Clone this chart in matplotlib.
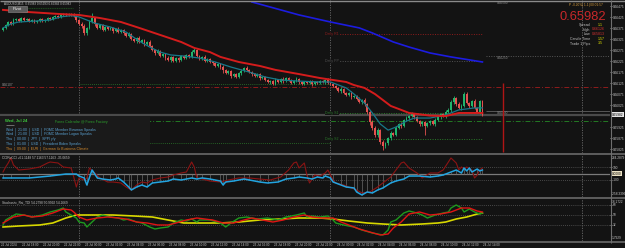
import numpy as np
import matplotlib.pyplot as plt
from matplotlib.patches import Rectangle

plt.rcParams['font.family'] = ['Liberation Sans', 'DejaVu Sans']

BG = '#131313'
TXT = '#c4c4c4'

# AUDUSD M15 bars, prices in points (1e-5)
first_open = 66366
closes = [66376, 66389, 66403, 66394, 66412, 66417, 66407, 66421, 66412, 66417,
          66407, 66412, 66403, 66407, 66417, 66407, 66412, 66421, 66417, 66426,
          66430, 66426, 66435, 66439, 66435, 66439, 66435, 66430, 66412, 66394,
          66385, 66353, 66376, 66403, 66421, 66394, 66376, 66389, 66367, 66380,
          66371, 66376, 66362, 66371, 66357, 66367, 66353, 66339, 66348, 66326,
          66316, 66330, 66312, 66321, 66303, 66312, 66294, 66276, 66262, 66271,
          66248, 66257, 66239, 66230, 66244, 66225, 66239, 66230, 66248, 66239,
          66253, 66244, 66266, 66276, 66248, 66235, 66244, 66225, 66235, 66221,
          66216, 66203, 66212, 66198, 66185, 66171, 66180, 66157, 66166, 66153,
          66171, 66180, 66194, 66185, 66175, 66166, 66157, 66166, 66148, 66153,
          66139, 66130, 66134, 66121, 66139, 66130, 66144, 66134, 66148, 66139,
          66125, 66134, 66144, 66130, 66121, 66130, 66125, 66134, 66121, 66130,
          66125, 66134, 66130, 66139, 66125, 66121, 66112, 66103, 66089, 66098,
          66080, 66071, 66080, 66062, 66066, 66053, 66039, 66048, 66030, 65993,
          65948, 65921, 65889, 65912, 65857, 65839, 65852, 65875, 65898, 65889,
          65921, 65939, 65930, 65957, 65966, 65975, 65984, 65971, 65952, 65939,
          65948, 65930, 65943, 65952, 65939, 65957, 65971, 65984, 65975, 65993,
          66003, 66039, 66057, 66030, 66012, 66021, 66075, 66034, 66021, 66043,
          66012, 65993, 66043, 65982]
wick_hi = [4, 6, 3, 5, 7, 4, 5, 3, 6, 4, 5, 3, 6, 4, 5, 3, 4, 6, 3, 5,
           4, 6, 3, 5, 4, 6, 3, 8, 5, 6, 7, 9, 6, 8, 22, 6, 5, 7, 4, 6,
           5, 6, 4, 5, 7, 4, 6, 5, 8, 4, 6, 5, 7, 4, 6, 5, 8, 6, 5, 7,
           4, 6, 5, 7, 4, 6, 5, 4, 7, 5, 6, 4, 8, 9, 5, 6, 4, 7, 5, 6,
           5, 7, 4, 6, 8, 5, 6, 4, 7, 5, 6, 8, 5, 7, 4, 6, 5, 7, 4, 6,
           5, 4, 6, 5, 7, 4, 6, 8, 5, 4, 6, 5, 7, 4, 5, 6, 4, 5, 7, 4,
           5, 6, 4, 5, 7, 4, 6, 5, 4, 7, 5, 6, 4, 7, 5, 6, 8, 5, 7, 6,
           9, 8, 7, 10, 6, 8, 7, 6, 9, 5, 7, 6, 8, 5, 7, 6, 9, 5, 6, 4,
           6, 5, 7, 4, 6, 8, 5, 7, 6, 9, 7, 10, 8, 6, 9, 7, 9, 8, 6, 7,
           8, 6, 7, 5]
wick_lo = [5, 3, 6, 4, 3, 5, 4, 6, 3, 5, 4, 6, 3, 5, 4, 6, 5, 3, 6, 4,
           5, 3, 6, 4, 5, 3, 6, 4, 9, 7, 8, 10, 7, 6, 5, 8, 6, 4, 7, 5,
           6, 4, 7, 5, 6, 4, 8, 6, 5, 7, 5, 7, 4, 6, 8, 5, 6, 7, 9, 5,
           6, 5, 7, 4, 8, 6, 5, 7, 4, 6, 5, 7, 6, 4, 6, 5, 7, 4, 6, 5,
           7, 5, 6, 8, 14, 6, 5, 7, 4, 6, 5, 7, 4, 6, 5, 8, 6, 4, 7, 5,
           6, 5, 7, 4, 6, 5, 4, 7, 5, 6, 4, 6, 5, 7, 4, 6, 5, 4, 7, 5,
           6, 4, 5, 7, 4, 6, 5, 7, 6, 8, 6, 7, 5, 8, 6, 7, 5, 9, 7, 10,
           12, 9, 11, 8, 10, 18, 9, 7, 8, 6, 7, 5, 8, 6, 5, 7, 6, 8, 5, 9,
           7, 40, 6, 8, 5, 7, 6, 9, 5, 7, 6, 8, 7, 9, 6, 8, 7, 6, 8, 5,
           7, 6, 8, 5]

# moving averages and trend line, read at sample bars
ma_slow_bar = [0, 10, 22, 29, 37, 45, 52, 60, 68, 73, 79, 83, 90, 98, 104,
               113, 121, 126, 131, 134, 138, 142, 145, 148, 152, 155, 163, 169, 174, 183]
ma_slow = [66458, 66448, 66439, 66435, 66421, 66403, 66376, 66344, 66312, 66285,
           66266, 66244, 66221, 66203, 66185, 66166, 66148, 66139, 66130, 66116,
           66103, 66075, 66048, 66021, 66003, 65989, 65977, 65975, 65989, 65989]
ma_fast_bar = [0, 3, 6, 12, 18, 22, 26, 29, 35, 41, 47, 52, 56, 60, 64, 69, 75, 81,
               87, 94, 100, 106, 113, 121, 125, 131, 134, 138, 141, 144, 147, 150,
               154, 157, 163, 169, 174, 180, 183]
ma_fast = [66376, 66394, 66403, 66407, 66412, 66426, 66432, 66426, 66398, 66380,
           66357, 66316, 66289, 66266, 66253, 66248, 66239, 66221, 66198, 66175,
           66153, 66139, 66134, 66130, 66130, 66103, 66075, 66034, 65989, 65939,
           65911, 65925, 65952, 65966, 65966, 65980, 66003, 66012, 66012]
trend_bar = [95, 113, 125, 136, 141, 149, 155, 163, 171, 183]
trend = [66494, 66435, 66403, 66376, 66353, 66312, 66289, 66262, 66244, 66221]

# levels
daily_names = ['Daily R1', 'Daily PP', 'Daily S1', 'Daily S2']
daily_levels = [66348, 66225, 65989, 65871]
daily_colors = ['#8e1c1c', '#505050', '#2a7a2a', '#2a7a2a']
prev_levels = [66121, 65852]
alert_levels = [66500, 66250, 66000]
red_level = 66107
green_level = 65952
bid = 65982
day_high, day_low = 66126, 65813
day_starts = [29, 125, 221]
today = 125
range_bar = 191

# CCI panel
cci_blue_bar = [0, 3, 10, 18, 24, 28, 29, 31, 32, 34, 36, 38, 41, 43, 44, 46, 48, 49, 51, 53,
                55, 57, 60, 63, 65, 68, 70, 72, 74, 76, 79, 83, 84, 85, 88, 92, 94, 98, 101, 105,
                108, 111, 113, 116, 118, 120, 122, 123, 125, 126, 129, 131, 134, 135, 137, 139,
                141, 143, 145, 148, 150, 153, 155, 159, 163, 166, 168, 171, 173, 175,
                176, 177, 178, 179, 181, 182, 183]
cci_blue = [-69, -69, -69, -39, -8, -8, -39, -69, -177, 54, -69, -85, -100, -85, -69, -131,
            -208, -254, -208, -177, -208, -146, -131, -116, -85, -100, -85, -69, -85, -69,
            -85, -116, -177, -131, -116, -85, -100, -131, -146, -131, -85, -69, -54, -69,
            -85, -54, -69, -39, -69, -131, -177, -208, -223, -285, -331, -285, -300, -254,
            -223, -146, -116, -85, -39, -39, -54, -39, -23, 23, 54, 8, 85, 39, 85, 23, 69, 39, 54]
cci_red_bar = [0, 1, 2, 3, 4, 6, 10, 14, 17, 18, 21, 23, 26, 27, 28, 29, 31, 32, 33, 35,
               37, 40, 42, 45, 47, 49, 51, 53, 55, 57, 60, 63, 65, 68, 70, 72, 73, 74, 76, 79,
               83, 86, 90, 94, 98, 102, 106, 109, 111, 112, 113, 115, 116, 117, 119, 121, 123,
               124, 126, 127, 130, 132, 135, 137, 140, 143, 145, 148, 150, 152, 153, 155, 158,
               160, 163, 166, 168, 170, 171, 173, 174, 175, 176, 177, 179, 180, 181, 182, 183]
cci_red = [23, 100, 162, 239, 131, 54, 69, 100, 162, 177, 162, 100, 85, -54, -208, -69,
           -100, -69, 85, 8, -69, -131, -131, -146, -208, -254, -177, -131, -146, -100,
           -69, -54, -23, 8, 23, 177, 100, -69, -85, -116, -131, -100, -69, -69, -85, -100,
           -54, 54, 162, 177, 85, 162, -23, -146, -23, -39, 8, 54, -100, -146, -177, -208,
           -254, -300, -285, -208, -146, -54, 54, 162, 177, 85, 8, -69, 8, 8, 54, 177, 239,
           162, 54, 100, 69, 100, 54, -69, -23, 54, 85]

# Stochastic RSI TDI panel
st_green_bar = [0, 1, 3, 5, 8, 11, 15, 18, 21, 23, 24, 26, 28, 29, 31, 32, 34, 36, 38, 41,
                44, 46, 48, 51, 53, 56, 58, 60, 63, 65, 68, 70, 72, 74, 75, 79, 83, 85, 87, 90,
                93, 97, 101, 105, 108, 112, 115, 116, 118, 121, 124, 126, 127, 130, 134, 137,
                141, 145, 147, 148, 150, 153, 155, 158, 160, 162, 165, 168, 170, 171,
                173, 175, 176, 178, 180, 182, 183]
st_green = [32.0, 41.0, 46.4, 51.8, 50.0, 46.4, 50.0, 55.4, 59.0, 62.6,
            55.4, 50.0, 44.6, 37.4, 35.6, 28.4, 37.4, 46.4, 50.0, 46.4,
            44.6, 41.0, 42.8, 37.4, 35.6, 28.4, 24.8, 26.6, 28.4, 35.6,
            41.0, 39.2, 42.8, 37.4, 41.0, 41.0, 35.6, 28.4, 35.6, 44.6,
            46.4, 42.8, 44.6, 41.0, 46.4, 50.0, 53.6, 46.4, 48.2, 46.4,
            48.2, 41.0, 35.6, 32.0, 28.4, 23.0, 17.6, 14.0, 23.0, 37.4,
            41.0, 53.6, 57.2, 53.6, 50.0, 44.6, 50.0, 53.6, 55.4, 62.6,
            68.0, 62.6, 55.4, 60.8, 55.4, 51.8, 53.6]
st_red_bar = [0, 2, 4, 8, 11, 15, 19, 23, 26, 27, 29, 32, 36, 40, 44, 47, 51, 55, 59, 63,
              66, 70, 74, 80, 84, 88, 92, 95, 99, 103, 107, 111, 115, 118, 122, 126, 129, 132,
              136, 140, 144, 147, 149, 152, 155, 159, 163, 167, 171, 175, 178, 181, 183]
st_red = [35.6, 41.0, 46.4, 50.0, 46.4, 48.2, 53.6, 60.8, 59.0, 55.4,
          46.4, 41.0, 44.6, 46.4, 44.6, 42.8, 37.4, 35.6, 32.0, 32.0,
          35.6, 41.0, 44.6, 41.0, 35.6, 35.6, 41.0, 44.6, 41.0, 37.4,
          41.0, 46.4, 50.0, 46.4, 44.6, 44.6, 37.4, 32.0, 24.8, 19.4,
          14.0, 15.8, 26.6, 37.4, 51.8, 55.4, 50.0, 51.8, 55.4, 62.6,
          62.6, 57.2, 55.4]
st_yellow_bar = [0, 6, 14, 19, 24, 28, 34, 42, 50, 57, 63, 69, 75, 83, 90, 98, 106, 113,
                 121, 126, 132, 139, 145, 152, 160, 166, 169, 173, 177, 181, 183]
st_yellow = [28.4, 30.2, 32.0, 35.6, 44.6, 50.0, 50.0, 50.0, 48.2, 46.4,
             41.0, 35.6, 35.6, 35.6, 37.4, 41.0, 42.8, 44.6, 44.6, 42.8,
             39.2, 35.6, 33.8, 32.0, 33.8, 35.6, 37.4, 42.8, 46.4, 51.8, 53.6]

time_bar = [-3, 5, 13, 21, 29, 37, 45, 53, 61, 69, 77, 85, 93, 101, 109, 117,
            125, 133, 141, 149, 157, 165, 173, 181]
time_labels = ['22 Jul 2024', '22 Jul 18:00', '22 Jul 20:00', '22 Jul 22:00',
               '23 Jul 00:00', '23 Jul 02:00', '23 Jul 04:00', '23 Jul 06:00',
               '23 Jul 08:00', '23 Jul 10:00', '23 Jul 12:00', '23 Jul 14:00',
               '23 Jul 16:00', '23 Jul 18:00', '23 Jul 20:00', '23 Jul 22:00',
               '24 Jul 00:00', '24 Jul 02:00', '24 Jul 04:00', '24 Jul 06:00',
               '24 Jul 08:00', '24 Jul 10:00', '24 Jul 12:00', '24 Jul 14:00']

events = ['Wed  |  21:00  |  USD  |  FOMC Member Bowman Speaks',
          'Wed  |  21:00  |  USD  |  FOMC Member Logan Speaks',
          'Thu  |  00:00  |  JPY  |  SPPI y/y',
          'Thu  |  01:00  |  USD  |  President Biden Speaks',
          'Thu  |  09:00  |  EUR  |  German ifo Business Climate']
event_colors = ['#5aa2d2', '#5aa2d2', '#5aa2d2', '#5aa2d2', '#d48a2c']

P = 1e-5
close = np.array(closes) * P
open_ = np.r_[first_open * P, close[:-1]]
high = np.maximum(open_, close) + np.array(wick_hi) * P
low = np.minimum(open_, close) - np.array(wick_lo) * P
bars = np.arange(len(close))

# ---- figure in pixel layout ----
W, H = 625, 248
fig = plt.figure(figsize=(W / 100, H / 100), dpi=100, facecolor=BG)


def rect(l, t, r, b):
    return [l / W, 1 - b / H, (r - l) / W, (b - t) / H]


SMALL = 2.3
XL = (-1.15, 231.7)
ax = fig.add_axes(rect(0, 0, 610, 153))
cax = fig.add_axes(rect(0, 155, 610, 197))
sax = fig.add_axes(rect(0, 199, 610, 241))
for a in (ax, cax, sax):
    a.set_facecolor(BG)
    a.set_xlim(*XL)
    for s in a.spines.values():
        s.set_visible(False)
    a.set_xticks([])
    a.yaxis.tick_right()
    a.tick_params(axis='y', labelsize=SMALL, colors=TXT, length=1.2, width=0.5, pad=1.0)
    for d in day_starts:
        a.axvline(d, color='#6a6a6a', lw=0.6, ls=(0, (1.5, 1.5)), zorder=1)

# ---- main price panel ----
ax.set_ylim(0.658069, 0.66503)
yt = np.array([66475, 66425, 66375, 66325, 66275, 66225, 66175, 66125, 66075, 66025,
               65925, 65875, 65825]) * P
ax.set_yticks(yt, [f'{v:.5f}' for v in yt])

ax.axhline(bid * P, color='#4a4a4a', lw=1.6, zorder=1)
ax.axhline(red_level * P, color='#8e1c1c', lw=0.7, ls=(0, (5, 2, 1, 2)), zorder=1)
ax.axhline(green_level * P, color='#237a23', lw=0.7, ls=(0, (5, 2, 1, 2)), zorder=1)
ax.hlines(np.array(prev_levels) * P, day_starts[0], today, color='#2a7a2a', lw=0.6,
          ls=(0, (1, 1.5)), zorder=1)
for name, lvl, col in zip(daily_names, daily_levels, daily_colors):
    ax.hlines(lvl * P, today, len(close) - 1, color=col, lw=0.7, ls=(0, (1, 1.5)), zorder=1)
    ax.text(today + 0.5, lvl * P, name, color=col, fontsize=2.6, ha='center', va='center',
            zorder=5, bbox=dict(facecolor=BG, edgecolor='none', pad=0.2))
for lvl in alert_levels:
    ls = '-' if lvl == 66000 else (0, (1, 1.5))
    ax.hlines(lvl * P, 184.5, XL[1], color='#575757', lw=0.7, ls=ls, zorder=1)
    ax.text(188.5, lvl * P - 0.000025, f'{lvl * P:.5f}', color='#8a8a8a', fontsize=SMALL,
            ha='left', va='top')
ax.text(-0.6, red_level * P + 0.00002, f'{red_level * P:.5f}', color='#9a9a9a',
        fontsize=SMALL, ha='left', va='bottom')

up = close >= open_
cols = np.where(up, '#22b46c', '#e4524f')
ax.vlines(bars, low, high, colors=cols, lw=0.6, zorder=3)
body = np.maximum(np.abs(close - open_), 0.000018)
ax.bar(bars, body, bottom=np.minimum(open_, close), width=0.7, color=cols, linewidth=0, zorder=3)

ax.plot(ma_fast_bar, np.array(ma_fast) * P, color='#18788a', lw=0.9, zorder=4)
ax.plot(ma_slow_bar, np.array(ma_slow) * P, color='#d41c1c', lw=1.4, zorder=4)
ax.plot(trend_bar, np.array(trend) * P, color='#1c1ce0', lw=1.2, zorder=4)
ax.vlines(range_bar, day_low * P, day_high * P, color='#b01515', lw=1.0, zorder=4)

ax.text(1.003, bid * P, f'{bid * P:.5f}', transform=ax.get_yaxis_transform(), fontsize=SMALL,
        color='black', va='center', ha='left',
        bbox=dict(facecolor='#e6e6e6', edgecolor='none', pad=0.3))

# ---- CCI panel ----
cax.set_ylim(-362, 285)
cax.set_yticks([100, -100], ['100', '-100'])
cax.axhline(0, color='#7a7a7a', lw=0.9, zorder=1)
cax.axhline(100, color='#5a5a5a', lw=0.6, ls=(0, (1, 1.5)), zorder=1)
cax.axhline(-100, color='#5a5a5a', lw=0.6, ls=(0, (1, 1.5)), zorder=1)
cax.vlines(cci_blue_bar, 0, cci_blue, color='#6a6a6a', lw=0.5, zorder=2)
cax.plot(cci_red_bar, cci_red, color='#8c1414', lw=0.8, zorder=3)
cax.plot(cci_blue_bar, cci_blue, color='#22a4e0', lw=1.1, zorder=4)
cax.text(0.003, 0.93, 'CCIRoCCI +61.1148 57.1163 57.1163 -35.0659', transform=cax.transAxes,
         ha='left', va='center', fontsize=SMALL, color=TXT)
cax.text(1.003, 0.985, '284.2879', transform=cax.transAxes, fontsize=SMALL, color=TXT, va='top')
cax.text(1.003, 0.02, '-258.3396', transform=cax.transAxes, fontsize=SMALL, color=TXT,
         va='bottom')
cax.text(1.003, 0, '0.0000', transform=cax.get_yaxis_transform(), fontsize=SMALL, color='black',
         va='center', bbox=dict(facecolor='#ece2c4', edgecolor='none', pad=0.3))

# ---- Stochastic panel ----
sax.set_ylim(3.2, 78.8)
sax.set_yticks([68, 50, 32], ['68', '50', '32'])
for lv in (68, 50, 32):
    sax.axhline(lv, color='#5a5a5a', lw=0.6, ls=(0, (1, 1.5)), zorder=1)
sax.plot(st_yellow_bar, st_yellow, color='#d8d800', lw=1.2, zorder=3)
sax.plot(st_green_bar, st_green, color='#1e9a1e', lw=1.0, zorder=4)
sax.plot(st_red_bar, st_red, color='#e01414', lw=1.0, zorder=5)
sax.text(0.003, 0.93, 'Stochastic_Rsi_TDI 54.2798 50.9992 54.2669', transform=sax.transAxes,
         ha='left', va='center', fontsize=SMALL, color=TXT)
sax.text(1.003, 0.985, '78.1722', transform=sax.transAxes, fontsize=SMALL, color=TXT, va='top')
sax.text(1.003, 0.02, '1.7929', transform=sax.transAxes, fontsize=SMALL, color=TXT, va='bottom')
for b, lab in zip(time_bar, time_labels):
    sax.text(b + 2.3, -0.1, lab, transform=sax.get_xaxis_transform(), fontsize=2.2,
             color=TXT, ha='left', va='center')

# ---- overlay: frame, info block, calendar ----
ov = fig.add_axes([0, 0, 1, 1])
ov.set_xlim(0, W)
ov.set_ylim(H, 0)
ov.axis('off')
ov.hlines(0.6, 0, W, color='#8a8a8a', lw=1.0)
ov.hlines([154, 198, 242], 0, W, color='#5e5e5e', lw=1.4)
ov.vlines(610.5, 0, 243, color='#6e6e6e', lw=0.8)

ov.text(4, 3.2, 'AUDUSD,M15  0.65983 0.65993 0.65983 0.65983', fontsize=2.2, color=TXT,
        ha='left', va='center')
ov.add_patch(Rectangle((8, 5.5), 19, 6, facecolor='#5c5c5c', edgecolor='#8a8a8a', lw=0.4))
ov.text(17.5, 8.6, 'Pivot', fontsize=3.0, color='#f0f0f0', ha='center', va='center')
ov.hlines(7.5, 28, 73, color='#1e4a1e', lw=0.8, ls=(0, (1, 0.6)))

ov.text(569, 5, 'P -0.20%| 1.1 |00:01:57', fontsize=2.3, color='#d49a3a', ha='left',
        va='center')
ov.text(606, 16.8, f'{bid * P:.5f}', fontsize=9.3, color='#c8282a', ha='right', va='center')
info = [('Spread', '1.1', '#e0e000', 25), ('High', f'{day_high * P:.5f}', '#d03030', 29.5),
        ('Low', f'{day_low * P:.5f}', '#d03030', 34), ('Candle Time', '1:57', '#e0e000', 39),
        ('Trade 1 Pips', '3.5', '#e0e000', 43.5)]
for lab, val, col, y in info:
    ov.text(590, y, lab, fontsize=2.6, color=TXT, ha='right', va='center')
    vx = 592 if col == '#d03030' else 598
    ov.text(vx, y, val, fontsize=2.6, color=col, ha='left', va='center')

ov.add_patch(Rectangle((0, 116.2), 150, 37, facecolor='#1a1a1a', edgecolor='none'))
ov.text(5, 120.5, 'Wed, Jul 24', fontsize=3.0, color='#3cc83c', weight='bold', ha='left',
        va='center')
ov.hlines(125.3, 6, 14, color='#7a7a7a', lw=0.6)
ov.text(55, 121.5, 'Forex Calendar @ Forex Factory', fontsize=2.6, color='#2ca02c',
        ha='left', va='center')
for k, (ev, col) in enumerate(zip(events, event_colors)):
    ov.text(6, 129.5 + 4.9 * k, ev, fontsize=2.5, color=col, ha='left', va='center')

fig.savefig('out.png', dpi=100, facecolor=BG)
